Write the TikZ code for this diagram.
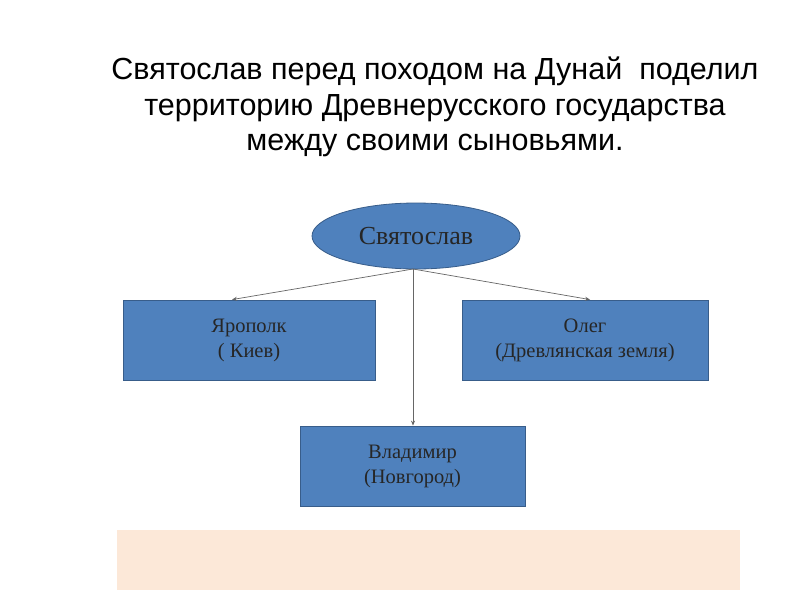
\documentclass[tikz,border=0pt]{standalone}
\usepackage{fontspec}
\setmainfont{Liberation Serif}
\newfontfamily\titlefont{Liberation Sans}
\usetikzlibrary{shapes.geometric,arrows.meta}
\definecolor{boxblue}{HTML}{4F81BD}
\definecolor{boxedge}{HTML}{385D8A}
\definecolor{peach}{HTML}{FCE8D8}
\tikzset{
  bluebox/.style={draw=boxedge, fill=boxblue, line width=0.8pt, inner sep=0pt, align=center, font=\fontsize{20.5}{25}\selectfont, text=black!85},
  conn/.style={draw=black!60, line width=0.7pt, -{Stealth[length=5pt,width=4pt]}}
}
\begin{document}
\begin{tikzpicture}[x=1pt,y=-1pt]
\useasboundingbox (0,0) rectangle (800,600);
\fill[white] (0,0) rectangle (800,600);
\node[font=\titlefont\fontsize{30.5}{35.5}\selectfont, align=center] (title) at (435,107)
  {Святослав перед походом на Дунай \ поделил\\территорию Древнерусского государства\\между своими сыновьями.};
\node[ellipse, draw=boxedge, fill=boxblue, line width=0.8pt, minimum width=208pt, minimum height=66pt, inner sep=0pt, font=\fontsize{26}{30}\selectfont, text=black!85] (sv) at (416,236) {Святослав};
\node[bluebox, minimum width=252pt, minimum height=80pt] (ya) at (249,340) {Ярополк\\( Киев)};
\node[bluebox, minimum width=246pt, minimum height=80pt] (ol) at (585,340) {Олег\\(Древлянская земля)};
\node[bluebox, minimum width=225pt, minimum height=80pt] (vl) at (412.5,466) {Владимир\\(Новгород)};
\coordinate (bot) at (413,269);
\draw[conn] (bot) -- (ya.north -| 232,0);
\draw[conn] (bot) -- (ol.north -| 590,0);
\draw[conn] (bot) -- (vl.north -| 413,0);
\fill[peach] (117,530) rectangle (740,590);
\end{tikzpicture}
\end{document}
